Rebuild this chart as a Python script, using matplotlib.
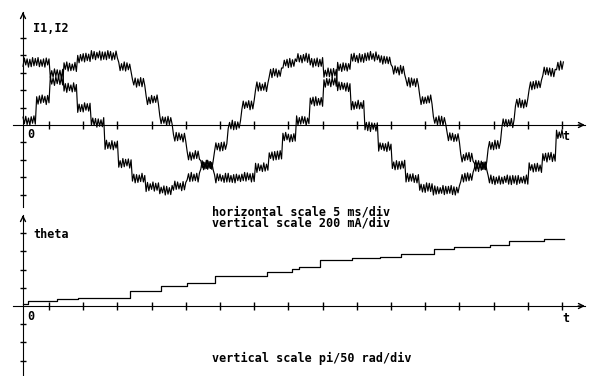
import numpy as np
import matplotlib.pyplot as plt

# step levels of the two phase currents, one value per 2 ms interval (mA)
i1_step = [50, 290, 510, 670, 770, 800, 800, 670, 490, 290,
           50, -140, -350, -460, -610, -610, -600, -490, -350, -140,
           50, 270, 490, 670, 770, 790, 750, 630, 490, 290,
           50, -140, -370, -480, -630, -630, -630, -490, -370, -110]
i2_step = [720, 720, 590, 430, 200, 30, -230, -440, -610, -710,
           -750, -700, -600, -460, -250, 0, 230, 440, 600, 710,
           770, 720, 600, 440, 230, -20, -250, -460, -610, -720,
           -750, -750, -600, -460, -230, 20, 250, 460, 610, 680]

# switching ripple on top of each level, sampled every 0.2 ms (mA)
i1_ripple = [
    40, -35, 50, -45, 30, -50, 45, -30, 55, -40,
    35, -50, 45, -40, 55, -30, 40, -55, 50, -35,
    50, -40, 30, -55, 45, -35, 55, -45, 35, -50,
    45, -30, 55, -50, 40, -45, 30, -40, 50, -55,
    30, -55, 40, -35, 50, -45, 55, -30, 45, -40,
    55, -40, 45, -50, 35, -30, 50, -55, 40, -45,
    40, -50, 55, -35, 45, -55, 30, -45, 50, -30,
    50, -45, 35, -40, 55, -50, 45, -35, 30, -55,
    35, -30, 50, -55, 40, -40, 55, -50, 45, -35,
    45, -55, 30, -45, 50, -35, 40, -30, 55, -50,
    55, -35, 45, -30, 40, -55, 50, -45, 35, -40,
    30, -45, 55, -40, 50, -30, 35, -55, 45, -50,
    45, -50, 40, -55, 30, -40, 55, -35, 50, -45,
    50, -30, 35, -45, 55, -50, 40, -40, 30, -55,
    40, -55, 50, -30, 45, -35, 30, -50, 55, -45,
    55, -45, 30, -50, 40, -55, 45, -30, 35, -40,
    35, -40, 55, -45, 50, -30, 40, -55, 45, -50,
    50, -55, 45, -35, 30, -45, 55, -40, 40, -30,
    30, -35, 40, -55, 45, -50, 50, -45, 55, -40,
    45, -40, 55, -30, 35, -55, 30, -50, 40, -45,
    55, -50, 35, -40, 50, -30, 45, -55, 30, -35,
    40, -30, 50, -50, 55, -45, 35, -40, 45, -55,
    30, -55, 45, -35, 40, -50, 55, -30, 50, -45,
    50, -45, 30, -55, 45, -40, 40, -50, 35, -30,
    45, -35, 55, -40, 30, -55, 50, -45, 40, -50,
    35, -50, 40, -45, 55, -35, 30, -55, 50, -40,
    55, -30, 45, -50, 40, -40, 35, -45, 30, -55,
    40, -45, 50, -30, 35, -55, 55, -40, 45, -50,
    30, -40, 55, -55, 50, -35, 40, -50, 45, -30,
    50, -55, 35, -45, 30, -40, 45, -35, 55, -50,
    45, -30, 40, -50, 55, -45, 50, -55, 35, -40,
    55, -40, 50, -35, 45, -50, 30, -45, 40, -55,
    35, -55, 30, -40, 50, -30, 55, -50, 45, -45,
    40, -50, 45, -55, 35, -40, 50, -30, 55, -35,
    50, -35, 55, -45, 40, -55, 30, -40, 45, -50,
    30, -45, 40, -30, 55, -50, 45, -55, 50, -40,
    45, -55, 50, -40, 30, -35, 40, -45, 55, -50,
    55, -30, 35, -50, 45, -45, 50, -40, 30, -55,
    40, -40, 45, -55, 50, -30, 55, -50, 35, -45,
    50, -45, 30, -35, 55, -40,
]
i2_ripple = [
    -45, 50, -30, 40, -55, 35, -50, 55, -40, 45,
    -35, 55, -50, 30, -45, 40, -55, 50, -30, 40,
    -50, 35, -40, 55, -30, 45, -45, 40, -55, 50,
    -40, 45, -55, 50, -35, 30, -50, 55, -45, 35,
    -55, 40, -45, 35, -50, 55, -30, 45, -40, 50,
    -30, 50, -35, 45, -55, 40, -45, 30, -50, 55,
    -50, 55, -40, 30, -45, 50, -55, 35, -35, 45,
    -45, 30, -50, 55, -40, 45, -30, 50, -55, 40,
    -35, 45, -55, 40, -50, 35, -40, 55, -45, 30,
    -55, 50, -45, 35, -30, 55, -50, 40, -40, 45,
    -40, 35, -30, 50, -55, 45, -45, 30, -50, 55,
    -50, 55, -40, 45, -35, 30, -55, 50, -45, 40,
    -30, 40, -50, 55, -45, 35, -40, 45, -55, 50,
    -45, 50, -55, 30, -40, 55, -35, 40, -50, 45,
    -55, 45, -35, 40, -50, 50, -45, 55, -30, 35,
    -40, 30, -45, 55, -55, 40, -50, 35, -35, 50,
    -50, 45, -40, 35, -30, 50, -55, 45, -45, 55,
    -35, 55, -50, 45, -45, 30, -40, 50, -55, 40,
    -45, 40, -55, 50, -35, 45, -50, 30, -40, 55,
    -55, 35, -30, 45, -50, 55, -45, 40, -35, 50,
    -40, 50, -45, 30, -55, 40, -35, 55, -50, 45,
    -30, 45, -55, 40, -40, 50, -50, 35, -45, 55,
    -50, 30, -40, 55, -45, 45, -55, 50, -35, 40,
    -45, 55, -35, 50, -30, 40, -50, 45, -55, 35,
    -55, 40, -50, 35, -40, 55, -45, 30, -40, 50,
    -35, 50, -45, 55, -55, 45, -30, 40, -50, 45,
    -50, 45, -30, 40, -45, 35, -55, 55, -40, 30,
    -40, 35, -55, 50, -50, 40, -45, 45, -35, 55,
    -45, 55, -40, 45, -35, 50, -50, 30, -55, 40,
    -30, 40, -50, 35, -55, 55, -40, 50, -45, 45,
    -55, 50, -45, 40, -40, 30, -35, 55, -50, 45,
    -40, 45, -35, 55, -50, 40, -55, 35, -30, 50,
    -50, 30, -55, 45, -45, 50, -40, 40, -35, 55,
    -35, 55, -40, 50, -30, 45, -50, 35, -55, 40,
    -45, 40, -50, 30, -55, 55, -45, 50, -40, 35,
    -55, 50, -35, 45, -40, 40, -30, 55, -50, 45,
    -30, 45, -45, 55, -50, 35, -55, 40, -40, 50,
    -50, 35, -55, 40, -45, 50, -35, 45, -30, 55,
    -40, 55, -30, 50, -35, 45, -50, 40, -55, 30,
    -45, 40, -50, 55, -40, 45,
]

# rotor angle staircase (step start in ms, angle in rad)
theta_t = [0, 0.7, 5.0, 8.0, 15.6, 20.2, 24.0, 28.0, 35.7, 39.3, 40.4,
           43.4, 48.1, 52.2, 55.3, 60.1, 63.0, 68.3, 71.0, 76.2, 79.1]
theta = [0.007, 0.018, 0.023, 0.029, 0.051, 0.068, 0.078, 0.105, 0.116,
         0.127, 0.136, 0.159, 0.165, 0.170, 0.181, 0.196, 0.205, 0.212,
         0.223, 0.230, 0.230]

DT = 0.2          # ms per sample
PX_MS = 6.84      # screen pixels per ms (5 ms/div)
PX_MA = 17.4 / 200
PX_RAD = 18.2 / (np.pi / 50)
W, H = 597, 376
X0 = 23           # screen column of t = 0

n = len(i1_ripple)
t = np.arange(n) * DT
i1 = np.repeat(i1_step, int(2 / DT))[:n] + np.array(i1_ripple)
i2 = np.repeat(i2_step, int(2 / DT))[:n] + np.array(i2_ripple)

fig = plt.figure(figsize=(W / 100, H / 100), dpi=100)
xlim = (-X0 / PX_MS, (W - X0) / PX_MS)
t_end = (585 - X0) / PX_MS
xticks = [3.8 + 5 * k for k in range(16)]

# upper panel: phase currents
ax1 = fig.add_axes([0, 1 - 210 / H, 1, 210 / H])
ax1.set_xlim(*xlim)
ax1.set_ylim(-(210 - 125) / PX_MA, 125 / PX_MA)
# lower panel: angle
ax2 = fig.add_axes([0, 0, 1, 166 / H])
ax2.set_xlim(*xlim)
ax2.set_ylim(-(376 - 306) / PX_RAD, (306 - 210) / PX_RAD)

arrow = dict(arrowstyle="->", lw=1, color="black",
             shrinkA=0, shrinkB=0, mutation_scale=9)

for ax in (ax1, ax2):
    ax.patch.set_alpha(0)
    for s in ("top", "right"):
        ax.spines[s].set_visible(False)
    ax.spines["left"].set_position(("data", 0))
    ax.spines["bottom"].set_position(("data", 0))
    ax.spines["bottom"].set_bounds(-10 / PX_MS, t_end)
    ax.set_xticks(xticks)
    ax.tick_params(axis="x", direction="inout", length=6, width=1)
    ax.tick_params(axis="y", direction="inout", length=4, width=1)
    ax.tick_params(labelleft=False, labelbottom=False)
    ax.annotate("", xy=(t_end, 0), xytext=(t_end - 1, 0), arrowprops=arrow)

top1 = (125 - 12) / PX_MA
ax1.spines["left"].set_bounds(-(207 - 125) / PX_MA, top1)
ax1.set_yticks([v for v in range(-800, 1001, 200) if v != 0])
ax1.annotate("", xy=(0, top1), xytext=(0, top1 - 20), arrowprops=arrow)

top2 = (306 - 215) / PX_RAD
ax2.spines["left"].set_bounds(-1, top2)
ax2.set_yticks([k * np.pi / 50 for k in (-3, -2, -1, 1, 2, 3, 4)])
ax2.annotate("", xy=(0, top2), xytext=(0, top2 - 0.01), arrowprops=arrow)

ax1.plot(t, i1, color="black", lw=0.85)
ax1.plot(t, i2, color="black", lw=0.85)
ax2.step(theta_t, theta, where="post", color="black", lw=0.9)

font = dict(family="DejaVu Sans Mono", fontweight="bold", fontsize=8.5,
            va="center", ha="left", color="black", linespacing=0.78)


def label(x, y, s):
    fig.text(x / W, 1 - y / H, s, **font)


label(33, 28, "I1,I2")
label(27, 134, "0")
label(562, 136, "t")
label(212, 217.5, "horizontal scale 5 ms/div\nvertical scale 200 mA/div")
label(33, 234, "theta")
label(27, 317, "0")
label(562, 318, "t")
label(212, 358, "vertical scale pi/50 rad/div")

fig.savefig("out.png", dpi=100)
